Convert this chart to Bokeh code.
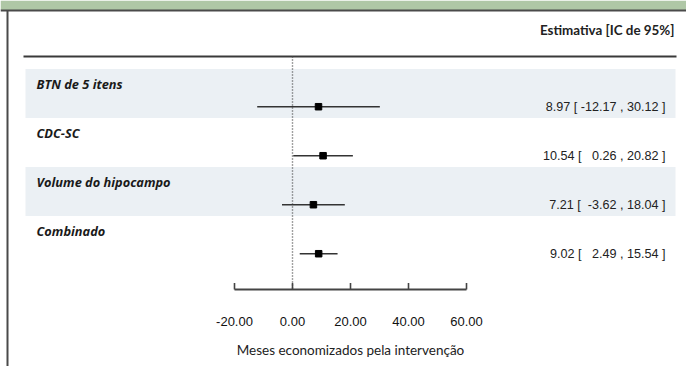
from bokeh.plotting import figure
from bokeh.models import Range1d, Span, BoxAnnotation, ColumnDataSource
from bokeh.core.properties import value
from bokeh.embed import file_html
from bokeh.resources import INLINE

# ---- data ----
labels = ["BTN de 5 itens", "CDC-SC", "Volume do hipocampo", "Combinado"]
estimates = [8.97, 10.54, 7.21, 9.02]
ci_low = [-12.17, 0.26, -3.62, 2.49]
ci_high = [30.12, 20.82, 18.04, 15.54]
ticks = [-20, 0, 20, 40, 60]
tick_labels = ["-20.00", "0.00", "20.00", "40.00", "60.00"]
header = "Estimativa [IC de 95%]"
x_title = "Meses economizados pela intervenção"

# ---- layout helpers ----
W, H = 686, 366
OFF = 0                   # page offset of the figure
PX_PER_UNIT = 2.9
ZERO_X = 292.0 - OFF      # pixel of x=0 inside the figure
ROW0 = 93.0 - OFF         # pixel of centre of row 0 inside the figure
ROW_H = 49.0

def ry(px_ref):
    """reference-page pixel y -> row units"""
    return (px_ref - OFF - ROW0) / ROW_H

def rx(px_ref):
    """reference-page pixel x -> data units"""
    return (px_ref - OFF - ZERO_X) / PX_PER_UNIT

p = figure(width=W, height=H, output_backend="svg", toolbar_location=None,
           x_range=Range1d(-ZERO_X / PX_PER_UNIT, (W - ZERO_X) / PX_PER_UNIT),
           y_range=Range1d((H - ROW0) / ROW_H, -ROW0 / ROW_H),
           min_border=0, min_border_left=0, min_border_right=0,
           min_border_top=0, min_border_bottom=0)
p.axis.visible = False
p.grid.visible = False
p.outline_line_color = None
p.background_fill_color = "white"
p.border_fill_color = "white"

n = len(labels)
rows = list(range(n))

# alternating band backgrounds
band_rows = [i for i in rows if i % 2 == 0]
p.quad(left=rx(25), right=rx(675),
       top=[i - 0.5 for i in band_rows], bottom=[i + 0.5 for i in band_rows],
       fill_color="#ebf0f4", line_color=None)

# frame decorations
p.add_layout(BoxAnnotation(top=ry(0), bottom=ry(9.5), fill_color="#afc7a6",
                           fill_alpha=1, line_color=None))
p.add_layout(Span(location=ry(10), dimension="width", line_color="#4a4a4a", line_width=2))
p.add_layout(BoxAnnotation(left=rx(6), right=rx(8), top=ry(10), fill_color="#4a4a4a",
                           fill_alpha=1, line_color=None))

# header
p.text(x=[rx(674)], y=[ry(29)], text=[header], text_align="right", text_baseline="middle",
       text_font=value("Lato"), text_font_style="bold", text_font_size="13.4px",
       text_color="#222222")
p.segment(x0=[rx(23)], x1=[rx(676)], y0=[ry(56)], y1=[ry(56)],
          line_color="#3a3a3a", line_width=2)

# reference line at zero
p.segment(x0=[0], x1=[0], y0=[ry(56)], y1=[ry(289)], line_color="#444444",
          line_width=1.4, line_dash="1 2")

# row labels
p.text(x=[rx(36)] * n, y=[i - 0.2 for i in rows], text=labels, text_align="left",
       text_baseline="middle", text_font=value("Open Sans"), text_font_style="bold italic",
       text_font_size="12.8px", text_color="#1a1a1a")

ci_y = [i + 0.27 for i in rows]
src = ColumnDataSource(dict(est=estimates, lo=ci_low, hi=ci_high, y=ci_y,
                            txt=[f"{e:.2f} [{l:7.2f} , {h:5.2f} ]".replace(" ", "\u00a0")
                                 for e, l, h in zip(estimates, ci_low, ci_high)]))
p.segment(x0="lo", x1="hi", y0="y", y1="y", source=src, line_color="#333333", line_width=1.4)
p.scatter(x="est", y="y", source=src, marker="square", size=6.5,
          fill_color="black", line_color="black")
p.text(x=rx(665), y="y", text="txt", source=src, text_align="right", text_baseline="middle",
       text_font=value("Liberation Sans"), text_font_size="12.6px", text_color="#222222")

# x axis drawn from tick list
ay = ry(289)
p.segment(x0=[ticks[0]], x1=[ticks[-1]], y0=[ay], y1=[ay], line_color="#444444", line_width=2)
p.segment(x0=ticks, x1=ticks, y0=[ay] * len(ticks), y1=[ry(282.5)] * len(ticks),
          line_color="#444444", line_width=1.6)
p.text(x=ticks, y=[ry(321)] * len(ticks), text=tick_labels, text_align="center",
       text_baseline="middle", text_font=value("Liberation Sans"), text_font_size="13px",
       text_color="#111111")
p.text(x=[(ticks[0] + ticks[-1]) / 2], y=[ry(349)], text=[x_title], text_align="center",
       text_baseline="middle", text_font=value("Lato"), text_font_size="13.5px",
       text_color="#222222")

open("out.html", "w").write(file_html(p, INLINE))
